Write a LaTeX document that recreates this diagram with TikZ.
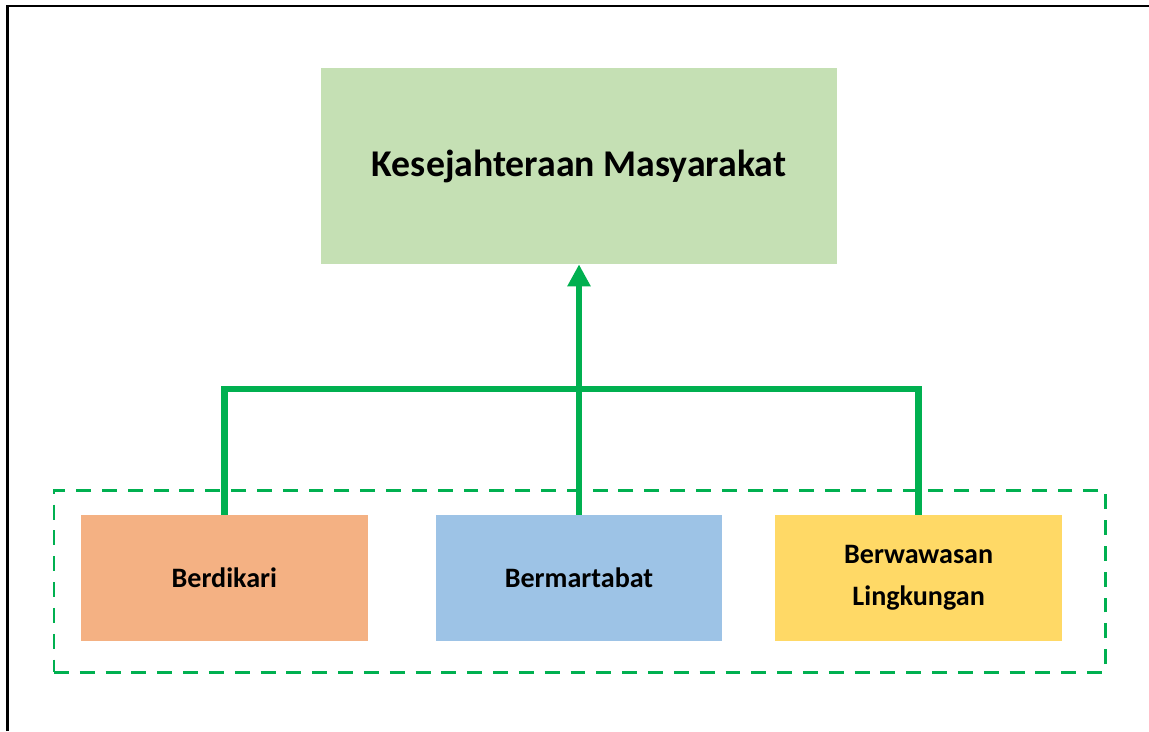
\documentclass[tikz,border=0pt]{standalone}
\usepackage{fontspec}
\setmainfont{Carlito}
\usepackage{xcolor}
\usetikzlibrary{arrows.meta, positioning, fit}

\definecolor{goalgreen}{HTML}{C5E0B4}
\definecolor{linkgreen}{HTML}{00B050}
\definecolor{pillarorange}{HTML}{F4B183}
\definecolor{pillarblue}{HTML}{9DC3E6}
\definecolor{pillaryellow}{HTML}{FFD966}

\begin{document}
\begin{tikzpicture}[
  x=0.02cm, y=-0.02cm,
  goal/.style={fill=goalgreen, minimum width=10.32cm, minimum height=3.92cm,
               font=\fontsize{21.5}{26}\selectfont\bfseries, align=center},
  pillar/.style={minimum width=5.74cm, minimum height=2.52cm,
                 font=\fontsize{16}{24}\selectfont\bfseries, align=center},
  link/.style={draw=linkgreen, line width=3.7pt, line join=miter},
  group/.style={draw=linkgreen, line width=1.7pt, dash pattern=on 8.5pt off 6.2pt,
                inner sep=0pt},
]
  \useasboundingbox (0,0) rectangle (1149,731);
  \draw[line width=1.7pt] (7.5,731) -- (7.5,6) -- (1149,6);

  \node[goal] (kesejahteraan) at (579,166) {Kesejahteraan Masyarakat};

  \node[pillar, fill=pillarblue] (bermartabat) at (579,578) {Bermartabat};
  \node[pillar, fill=pillarorange, left=1.34cm of bermartabat] (berdikari) {Berdikari};
  \node[pillar, fill=pillaryellow, right=1.04cm of bermartabat] (wawasan) {Berwawasan\\Lingkungan};

  \node[group, fit={(54,490) (1105,672)}] (pilar) {};

  \coordinate (junc) at (579,389);

  \draw[link] (berdikari.north) |- (junc) -| (wawasan.north);
  \draw[link, -{Triangle[length=22*0.02cm, width=22*0.02cm]}] (bermartabat.north) -- (kesejahteraan.south);
\end{tikzpicture}
\end{document}
